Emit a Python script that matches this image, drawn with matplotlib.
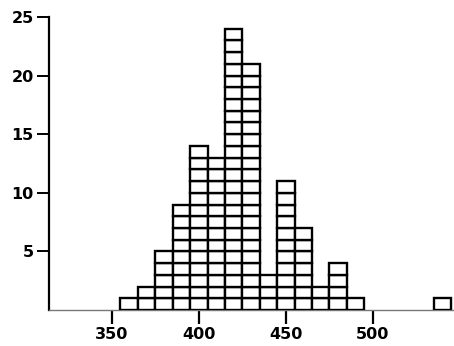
import matplotlib.pyplot as plt

# histogram counts, one box per observation
bin_centers = [360, 370, 380, 390, 400, 410, 420, 430, 440, 450, 460, 470, 480, 490, 540]
counts = [1, 2, 5, 9, 14, 13, 24, 21, 3, 11, 7, 2, 4, 1, 1]
x_ticks = [350, 400, 450, 500]
y_ticks = [5, 10, 15, 20, 25]

fig = plt.figure(figsize=(4.54, 3.46), dpi=100)
ax = fig.add_axes([0.108, 0.104, 0.890, 0.847])

for c, n in zip(bin_centers, counts):
    for k in range(n):
        ax.bar(c, 1, bottom=k, width=10, color='white', edgecolor='black',
               linewidth=1.7, zorder=3)

ax.set_xlim(314, 546)
ax.set_ylim(0, 25)
ax.set_xticks(x_ticks)
ax.set_yticks(y_ticks)

ax.spines['top'].set_visible(False)
ax.spines['right'].set_visible(False)
ax.spines['left'].set_linewidth(1.6)
ax.spines['bottom'].set_color('#777777')
ax.spines['bottom'].set_linewidth(1.0)

ax.tick_params(axis='y', length=9, width=1.4, pad=2, labelsize=11.5)
ax.tick_params(axis='x', length=10, width=1.6, pad=2, labelsize=11.5)
for lbl in ax.get_xticklabels() + ax.get_yticklabels():
    lbl.set_fontweight('bold')

plt.savefig('out.png', dpi=100)
